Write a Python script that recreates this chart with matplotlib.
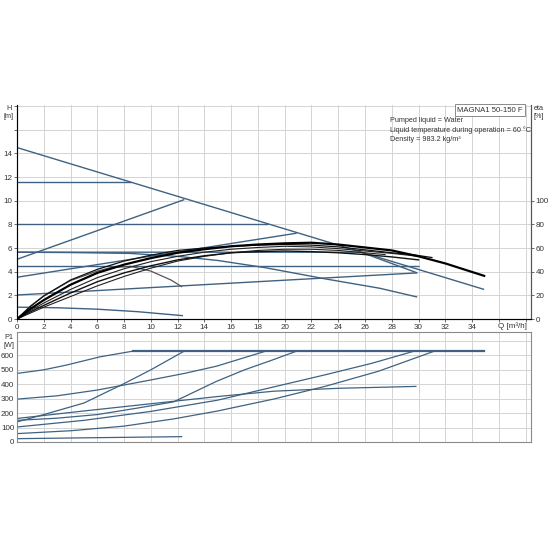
import numpy as np
import matplotlib.pyplot as plt

plt.rcParams["font.family"] = ["Liberation Sans", "DejaVu Sans"]

# ---- data ----
# H [m] vs Q [m3/h], blue control curves (Q list, H list)
max_q = [0, 34.9]
max_h = [14.5, 2.5]
const_115_q = [0, 8.5]
const_115_h = [11.58, 11.58]
const_8_q = [0, 18.75]
const_8_h = [8.05, 8.05]
prop_high_q = [0, 12.5]
prop_high_h = [5.05, 10.1]
prop_mid_q = [0, 20.9]
prop_mid_h = [3.53, 7.26]
const_56_q = [0, 25.7, 29.9]
const_56_h = [5.65, 5.65, 3.9]
const_45_q = [0, 30.0]
const_45_h = [4.52, 4.52]
prop_low_q = [0, 29.9]
prop_low_h = [2.03, 3.9]
auto_q = [0, 4, 8.4, 12.2, 15, 18.5, 23, 27.1, 29.9]
auto_h = [5.65, 5.62, 5.55, 5.28, 4.95, 4.35, 3.4, 2.6, 1.86]
min_q = [0, 3, 6, 9, 12.4]
min_h = [1.0, 0.95, 0.83, 0.62, 0.28]

# efficiency curves (plotted on the H scale, eta = 10 * H)
eta_q = [0, 1, 2, 4, 6, 8, 10, 12, 14, 16, 18, 20, 22, 24, 26, 28, 30, 32, 34.9]
eta_max = [0, 0.85, 1.6, 2.9, 3.9, 4.6, 5.15, 5.6, 5.9, 6.15, 6.3, 6.4, 6.45, 6.3, 6.05, 5.8, 5.3, 4.7, 3.65]
eta_q2 = [0, 1, 2, 4, 6, 8, 10, 12, 14, 16, 18, 20, 22, 24, 26, 28, 29.5, 31]
eta_2 = [0, 1.05, 1.95, 3.3, 4.2, 4.9, 5.4, 5.8, 6.0, 6.15, 6.25, 6.3, 6.25, 6.1, 5.85, 5.6, 5.45, 5.2]
eta_q3 = [0, 1, 2, 4, 6, 8, 10, 12, 14, 16, 18, 20, 22, 24, 26, 28, 30]
eta_3 = [0, 0.7, 1.35, 2.5, 3.5, 4.25, 4.85, 5.3, 5.65, 5.9, 6.05, 6.15, 6.1, 5.95, 5.75, 5.55, 5.3]
eta_4 = [0, 0.6, 1.15, 2.2, 3.15, 3.9, 4.5, 5.0, 5.35, 5.6, 5.7, 5.75, 5.7, 5.6, 5.45, 5.25, 5.0]
eta_q5 = [0, 1, 2, 4, 6, 8, 10, 12, 14, 16, 18, 20, 22, 24, 26, 27.5]
eta_5 = [0, 0.5, 1.0, 1.9, 2.8, 3.6, 4.3, 4.9, 5.3, 5.6, 5.8, 5.9, 5.9, 5.8, 5.6, 5.45]
eta_small_q = [0, 1, 2, 4, 6, 7, 8.5, 10, 11.5, 12.3]
eta_small = [0, 1.1, 1.95, 3.25, 4.05, 4.35, 4.45, 4.05, 3.3, 2.74]

# P1 [W] vs Q
p_limit_q = [8.7, 34.9]
p_limit = [630, 630]
p_a_q = [0, 2, 3.7, 6.2, 8.7]
p_a = [475, 500, 533, 590, 630]
p_b_q = [0, 3, 6, 9.9, 12.5, 14.9, 18.6]
p_b = [297, 320, 360, 428, 475, 525, 630]
p_c_q = [0, 2, 5, 7.9, 10, 12.5]
p_c = [139, 190, 270, 400, 500, 630]
p_d_q = [0, 3, 6, 9, 11.7, 14.9, 17, 19.2, 20.9]
p_d = [150, 165, 190, 235, 278, 420, 500, 572, 630]
p_e_q = [0, 5, 10, 15, 19.2, 24, 29.8]
p_e = [163, 215, 265, 315, 352, 372, 385]
p_f_q = [0, 5, 10, 15, 19.2, 23, 26.5, 29.7]
p_f = [104, 150, 212, 290, 382, 465, 545, 630]
p_g_q = [0, 4, 8, 11.7, 15, 19.2, 23, 27, 31.2]
p_g = [58, 78, 110, 160, 215, 298, 385, 490, 630]
p_h_q = [0, 6, 12.3]
p_h = [23, 30, 37]

q_ticks = list(range(0, 36, 2))
h_ticks = list(range(0, 16, 2))
eta_ticks = list(range(0, 120, 20))
p_ticks = list(range(0, 700, 100))

blue = "#3f6282"
grid_c = "#d4d4d4"
spine_c = "#555555"
fs = 5.8

fig = plt.figure(figsize=(5.5, 5.5), dpi=100)

# ---- top panel: H and eta ----
ax1 = fig.add_axes([17 / 550, 1 - 319 / 550, 514 / 550, 214 / 550])
ax1.set_xlim(0, 38.4)
ax1.set_ylim(0, 18.1)
ax1.set_xticks(np.arange(0, 40, 2))
ax1.set_yticks(np.arange(0, 20, 2))
ax1.set_xticklabels([str(q) if q in q_ticks else "" for q in range(0, 40, 2)], fontsize=fs, color="#333")
ax1.set_yticklabels([str(h) if h in h_ticks else "" for h in range(0, 20, 2)], fontsize=fs, color="#333")
ax1.grid(True, color=grid_c, linewidth=0.7)
ax1.set_axisbelow(True)
ax1.tick_params(length=2, width=0.6, pad=1.5, color=spine_c)
ax1.spines["top"].set_visible(False)
for s in ("left", "bottom", "right"):
    ax1.spines[s].set_color(spine_c)
    ax1.spines[s].set_linewidth(0.8)

for qq, hh in [(max_q, max_h), (const_115_q, const_115_h), (const_8_q, const_8_h),
               (prop_high_q, prop_high_h), (prop_mid_q, prop_mid_h), (const_56_q, const_56_h),
               (const_45_q, const_45_h), (prop_low_q, prop_low_h), (auto_q, auto_h),
               (min_q, min_h)]:
    ax1.plot(qq, hh, color=blue, linewidth=1.0, solid_capstyle="butt")

ax1.plot(eta_small_q, eta_small, color="#555555", linewidth=0.9)
ax1.plot(eta_q5, eta_5, color="#222222", linewidth=0.8)
ax1.plot(eta_q3, eta_4, color="#111111", linewidth=1.0)
ax1.plot(eta_q3, eta_3, color="#222222", linewidth=0.8)
ax1.plot(eta_q2, eta_2, color="#111111", linewidth=0.9)
ax1.plot(eta_q, eta_max, color="black", linewidth=1.6)

ax1.text(37.0, -0.25, "Q [m³/h]", fontsize=fs, color="#333", ha="center", va="top")

# right eta axis
ax_eta = ax1.twinx()
ax_eta.set_ylim(0, 181)
ax_eta.set_yticks(eta_ticks)
ax_eta.set_yticklabels([str(e) for e in eta_ticks], fontsize=fs, color="#333")
ax_eta.tick_params(length=2, width=0.6, pad=1.5, color=spine_c)
ax_eta.spines["top"].set_visible(False)
ax_eta.spines["right"].set_color(spine_c)

# ---- bottom panel: P1 ----
ax2 = fig.add_axes([17 / 550, 1 - 442 / 550, 514 / 550, 110 / 550])
ax2.set_xlim(0, 38.4)
ax2.set_ylim(0, 762)
ax2.set_xticks(np.arange(0, 40, 2))
ax2.set_xticklabels([])
ax2.set_yticks(np.arange(0, 800, 100))
ax2.set_yticklabels([str(p) if p in p_ticks else "" for p in range(0, 800, 100)], fontsize=fs, color="#333")
ax2.grid(True, color=grid_c, linewidth=0.7)
ax2.set_axisbelow(True)
ax2.tick_params(length=0, pad=2)
for s in ax2.spines.values():
    s.set_color("#8a8a8a")
    s.set_linewidth(0.8)

for qq, pp in [(p_a_q, p_a), (p_b_q, p_b), (p_c_q, p_c), (p_d_q, p_d), (p_e_q, p_e),
               (p_f_q, p_f), (p_g_q, p_g), (p_h_q, p_h)]:
    ax2.plot(qq, pp, color=blue, linewidth=0.9)
ax2.plot(p_limit_q, p_limit, color=blue, linewidth=1.6)

# ---- labels and info text ----
fig.text(9 / 550, 1 - 105 / 550, "H\n[m]", fontsize=5.2, color="#333", ha="center", va="top", linespacing=1.2)
fig.text(539 / 550, 1 - 105 / 550, "eta\n[%]", fontsize=5.2, color="#333", ha="center", va="top", linespacing=1.2)
fig.text(9 / 550, 1 - 334 / 550, "P1\n[W]", fontsize=5.2, color="#333", ha="center", va="top", linespacing=1.2)
fig.text(523 / 550, 1 - 110 / 550, "MAGNA1 50-150 F", fontsize=5.6, color="#333", ha="right", va="center",
         bbox=dict(boxstyle="square,pad=0.3", facecolor="white", edgecolor="#777", linewidth=0.6))
fig.text(390 / 550, 1 - 117 / 550,
         "Pumped liquid = Water\nLiquid temperature during operation = 60 °C\nDensity = 983.2 kg/m³",
         fontsize=5.2, color="#333", ha="left", va="top", linespacing=1.45)

fig.savefig("out.png", dpi=100, facecolor="white")
